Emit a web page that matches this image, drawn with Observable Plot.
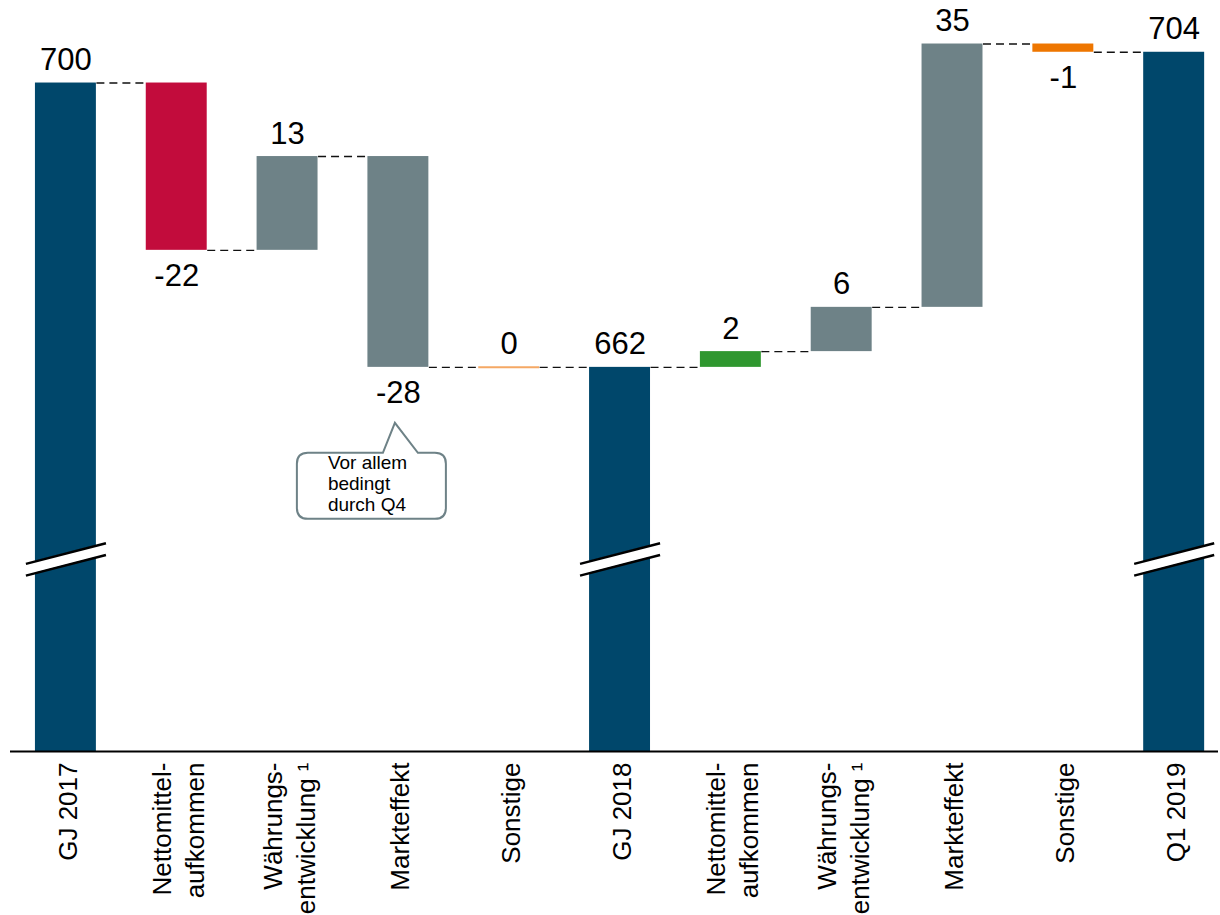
<!DOCTYPE html>
<html><head><meta charset="utf-8">
<script src="https://cdn.jsdelivr.net/npm/d3@7"></script>
<script src="https://cdn.jsdelivr.net/npm/@observablehq/plot@0.6"></script>
<style>
body{margin:0;background:#fff;}
#chart svg{display:block;}
</style></head><body><div id="chart"></div>
<script>
// ---- data ----
const labels = ["GJ 2017","Nettomittel-\naufkommen","Währungs-\nentwicklung ¹","Markteffekt","Sonstige","GJ 2018","Nettomittel-\naufkommen","Währungs-\nentwicklung ¹","Markteffekt","Sonstige","Q1 2019"];
const kinds = ["total","delta","delta","delta","delta","total","delta","delta","delta","delta","total"];
const values = [700.0, -22.3, 12.5, -28.1, 0, 662.1, 2.1, 5.9, 35.1, -1.1, 704.1];
const valueLabels = ["700","-22","13","-28","0","662","2","6","35","-1","704"];
const barColors = ["#00476b","#c20c3c","#6e8287","#6e8287","#f5a864","#00476b","#2f972f","#6e8287","#6e8287","#ee7600","#00476b"];
const axisBase = 610.9;    // broken (truncated) value axis starts here
const axisTop = 711.0;
const breakValue = 636.5;  // where the break marks cross the total bars
const calloutIndex = 3;
const calloutLines = ["Vor allem","bedingt","durch Q4"];

// ---- derived table ----
let run = 0;
const rows = labels.map((label, i) => {
  let y1, y2;
  if (kinds[i] === "total") { y1 = axisBase; y2 = values[i]; run = values[i]; }
  else { y1 = run; y2 = run + values[i]; run = y2; }
  return {i, label, kind: kinds[i], value: values[i], text: valueLabels[i], color: barColors[i],
          y1, y2, top: Math.max(y1, y2), bottom: Math.min(y1, y2), level: run};
});
const hw = 0.275;   // half bar width (in category units)
const bw = 0.361;   // half width of break marks
const connectors = rows.slice(0, -1).map(d => ({i: d.i, level: d.level}));
const breaks = rows.filter(d => d.kind === "total");
const breakArea = breaks.flatMap(d => [
  {g: d.i, x: d.i - bw, lo: breakValue - 0.78 - 1.373, hi: breakValue + 0.78 - 1.373},
  {g: d.i, x: d.i + bw, lo: breakValue - 0.78 + 1.373, hi: breakValue + 0.78 + 1.373}
]);
const breakLines = breaks.flatMap(d => [-0.78, 0.78].map(o => ({i: d.i, a: breakValue + o - 1.373, b: breakValue + o + 1.373})));

const font = "'Liberation Sans', Arial, sans-serif";

const plot = Plot.plot({
  width: 1220, height: 915,
  marginLeft: 10, marginRight: 2, marginTop: 0, marginBottom: 164,
  style: {fontFamily: font, background: "#fff", color: "#000"},
  x: {domain: [-0.5, 10.4], axis: null},
  y: {domain: [axisBase, axisTop], axis: null},
  color: {type: "identity"},
  marks: [
    Plot.rect(rows.filter(d => d.y1 !== d.y2), {x1: d => d.i - hw, x2: d => d.i + hw, y1: "y1", y2: "y2", fill: "color"}),
    Plot.ruleY(rows.filter(d => d.y1 === d.y2), {x1: d => d.i - hw, x2: d => d.i + hw, y: "y1", stroke: "color", strokeWidth: 2}),
    Plot.areaY(breakArea, {x: "x", y1: "lo", y2: "hi", z: "g", fill: "#fff"}),
    Plot.link(breakLines, {x1: d => d.i - bw, x2: d => d.i + bw, y1: "a", y2: "b", stroke: "#000", strokeWidth: 2.5}),
    Plot.link(connectors, {x1: d => d.i + hw, x2: d => d.i + 1 - hw, y1: "level", y2: "level", stroke: "#111", strokeWidth: 1.4, strokeDasharray: "8,5"}),
    Plot.ruleY([axisBase], {stroke: "#000", strokeWidth: 2}),
    Plot.text(rows.filter(d => d.value >= 0), {x: "i", y: "top", text: "text", lineAnchor: "bottom", dy: -13, fontSize: 31, fill: "#000"}),
    Plot.text(rows.filter(d => d.value < 0), {x: "i", y: "bottom", text: "text", lineAnchor: "top", dy: 13.5, fontSize: 31, fill: "#000"}),
    Plot.text(rows, {x: "i", y: () => axisBase, text: "label", rotate: -90, textAnchor: "end", lineAnchor: "middle", dy: 11, lineHeight: 1.28, fontSize: 26, fill: "#000"})
  ]
});
document.getElementById("chart").appendChild(plot);

// ---- callout bubble anchored to the Markteffekt bar via the plot's scales ----
const sx = plot.scale("x"), sy = plot.scale("y");
const ax = sx.apply(calloutIndex) - 3;
const ay = sy.apply(rows[calloutIndex].bottom) + 56;
const L = ax - 98, R = ax + 51, T = ay + 30, B = ay + 96, r = 11, pl = ax - 12, pr = ax + 23;
const svg = d3.select(plot);
const g = svg.append("g");
g.append("path")
  .attr("d", `M${L + r},${T}L${pl},${T}L${ax},${ay}L${pr},${T}L${R - r},${T}Q${R},${T} ${R},${T + r}L${R},${B - r}Q${R},${B} ${R - r},${B}L${L + r},${B}Q${L},${B} ${L},${B - r}L${L},${T + r}Q${L},${T} ${L + r},${T}Z`)
  .attr("fill", "#fff").attr("stroke", "#6e8287").attr("stroke-width", 2);
g.append("text")
  .attr("font-family", font).attr("font-size", 19).attr("fill", "#000").attr("text-anchor", "start")
  .selectAll("tspan").data(calloutLines).join("tspan")
  .attr("x", ax - 67).attr("y", (d, k) => ay + 46 + k * 21).text(d => d);
</script>
</body></html>
